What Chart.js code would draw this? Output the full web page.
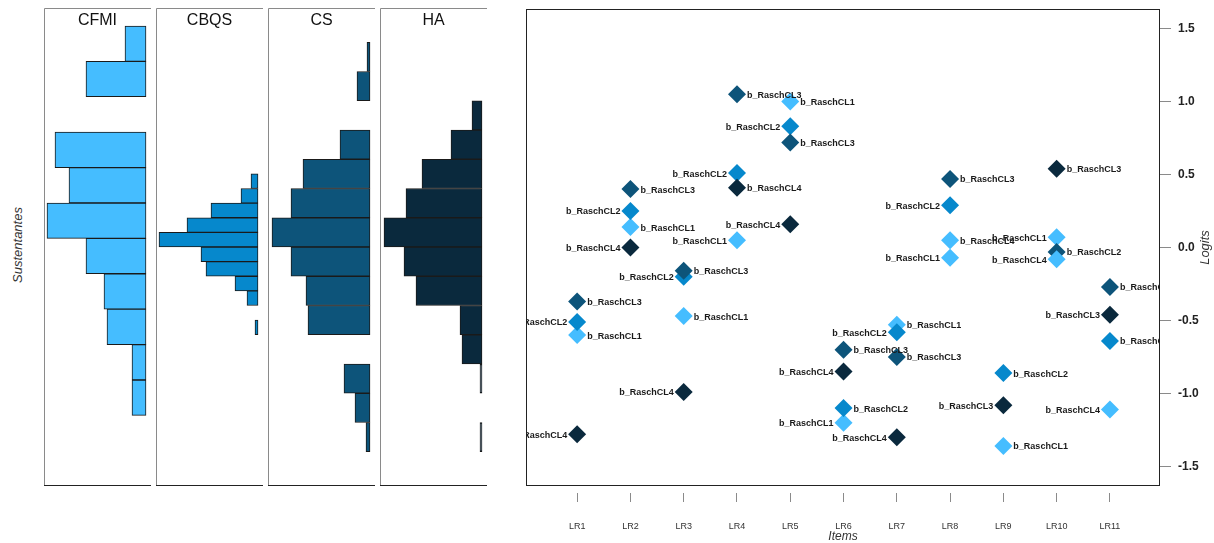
<!DOCTYPE html>
<html>
<head>
<meta charset="utf-8">
<script src="https://cdn.jsdelivr.net/npm/chart.js@4.4.1/dist/chart.umd.min.js"></script>
<style>
  html, body { margin: 0; padding: 0; background: #fff; }
  #wrap { position: relative; width: 1214px; height: 543px; overflow: hidden; }
  #wrap canvas { position: absolute; top: 0; }
  #persons {
    position: absolute; left: 17px; top: 245px;
    transform: translate(-50%, -50%) rotate(-90deg);
    font: italic 13px "Liberation Sans", Arial, sans-serif; color: #333; white-space: nowrap;
  }
</style>
</head>
<body>
<div id="wrap">
  <canvas id="hist0" width="107" height="543" style="left:44px"></canvas>
  <canvas id="hist1" width="107" height="543" style="left:156px"></canvas>
  <canvas id="hist2" width="107" height="543" style="left:268px"></canvas>
  <canvas id="hist3" width="107" height="543" style="left:380px"></canvas>
  <canvas id="map" width="714" height="543" style="left:500px"></canvas>
  <div id="persons">Sustentantes</div>
</div>
<script>
// ---- person distributions (one histogram per group, bins in logits) ----
const groupNames = ['CFMI', 'CBQS', 'CS', 'HA'];

const cfmiBins = [1.39, 1.148, 0.906, 0.664, 0.422, 0.18, -0.062, -0.304, -0.546, -0.788, -1.03];
const cfmiFreq = [21, 60, 0, 91, 77, 99, 60, 42, 39, 14, 14];

const cbqsBins = [0.45, 0.35, 0.25, 0.15, 0.05, -0.05, -0.15, -0.25, -0.35, -0.45, -0.55];
const cbqsFreq = [7, 17, 47, 71, 99, 57, 52, 23, 11, 0, 3];

const csBins = [1.3, 1.1, 0.9, 0.7, 0.5, 0.3, 0.1, -0.1, -0.3, -0.5, -0.7, -0.9, -1.1, -1.3];
const csFreq = [3, 13, 0, 30, 67, 79, 98, 79, 64, 62, 0, 26, 15, 4];

const haBins = [0.9, 0.7, 0.5, 0.3, 0.1, -0.1, -0.3, -0.5, -0.7, -0.9, -1.1, -1.3];
const haFreq = [10, 31, 60, 76, 98, 78, 66, 22, 20, 2, 0, 2];

// ---- item thresholds (logits), columns = b_RaschCL1..CL4 ----
const items = ['LR1', 'LR2', 'LR3', 'LR4', 'LR5', 'LR6', 'LR7', 'LR8', 'LR9', 'LR10', 'LR11'];
const thresholdNames = ['b_RaschCL1', 'b_RaschCL2', 'b_RaschCL3', 'b_RaschCL4'];
const thresholds = [
  [-0.60, -0.51, -0.37, -1.28],
  [ 0.14,  0.25,  0.40,  0.00],
  [-0.47, -0.20, -0.16, -0.99],
  [ 0.05,  0.51,  1.05,  0.41],
  [ 1.00,  0.83,  0.72,  0.16],
  [-1.20, -1.10, -0.70, -0.85],
  [-0.53, -0.58, -0.75, -1.30],
  [-0.07,  0.29,  0.47,  0.05],
  [-1.36, -0.86, -1.08,  null],
  [ 0.07, -0.03,  0.54, -0.08],
  [-0.27, -0.64, -0.46, -1.11]
];
// shade group of each threshold symbol (0 = lightest ... 3 = darkest)
const thresholdShade = [
  [0, 1, 2, 3], [0, 1, 2, 3], [0, 1, 2, 3], [0, 1, 2, 3], [0, 1, 2, 3], [0, 1, 2, 3],
  [0, 1, 2, 3], [0, 1, 2, 0], [0, 1, 3, null], [0, 2, 3, 0], [2, 1, 3, 0]
];
const logitTicks = [-1.5, -1.0, -0.5, 0.0, 0.5, 1.0, 1.5];

// ---- styling ----
const FONT = '"Liberation Sans", Arial, sans-serif';
Chart.defaults.font.family = FONT;
const shades = ['#45BDFF', '#0688CC', '#0D547A', '#0A293D'];
const LOGIT_MIN = -1.634, LOGIT_MAX = 1.634;

// frame + group name for each histogram panel
const panelFrame = {
  id: 'panelFrame',
  afterDraw(chart, args, opts) {
    const {ctx, chartArea: a} = chart;
    ctx.save();
    ctx.lineWidth = 1;
    ctx.strokeStyle = '#8a8a8a';
    ctx.beginPath();
    ctx.moveTo(a.left + 0.5, a.bottom);
    ctx.lineTo(a.left + 0.5, a.top + 0.5);
    ctx.lineTo(a.right, a.top + 0.5);
    ctx.stroke();
    ctx.strokeStyle = '#222';
    ctx.beginPath();
    ctx.moveTo(a.left, a.bottom - 0.5);
    ctx.lineTo(a.right, a.bottom - 0.5);
    ctx.stroke();
    ctx.fillStyle = '#111';
    ctx.font = '16px ' + FONT;
    ctx.textAlign = 'center';
    ctx.textBaseline = 'alphabetic';
    ctx.fillText(opts.name, (a.left + a.right) / 2, a.top + 17);
    ctx.restore();
  }
};

const histData = [[cfmiBins, cfmiFreq], [cbqsBins, cbqsFreq], [csBins, csFreq], [haBins, haFreq]];
histData.forEach(([bins, freq], g) => {
  new Chart(document.getElementById('hist' + g), {
    type: 'bar',
    data: {
      datasets: [{
        data: bins.map((b, k) => ({ y: b, x: freq[k] })),
        backgroundColor: shades[g],
        borderColor: '#1a1a1a',
        borderWidth: 1,
        borderSkipped: false,
        barThickness: 'flex',
        categoryPercentage: 1,
        barPercentage: 1
      }]
    },
    options: {
      indexAxis: 'y',
      responsive: false,
      animation: false,
      events: [],
      layout: { padding: { top: 8, bottom: 57, left: 0, right: 0 } },
      scales: {
        x: { type: 'linear', display: false, reverse: true, min: -5, max: 102 },
        y: { type: 'linear', display: false, offset: false, min: LOGIT_MIN, max: LOGIT_MAX }
      },
      plugins: { legend: { display: false }, tooltip: { enabled: false }, panelFrame: { name: groupNames[g] } }
    },
    plugins: [panelFrame]
  });
});

// ---- item map ----
const points = [];
items.forEach((name, i) => {
  const vals = thresholds[i];
  const ranked = vals.map((v, j) => ({ v, j })).filter(o => o.v !== null).sort((a, b) => b.v - a.v);
  const rank = {};
  ranked.forEach((o, r) => { rank[o.j] = r; });
  vals.forEach((v, j) => {
    if (v === null) return;
    points.push({ x: i + 1, y: v, name: thresholdNames[j], side: rank[j] % 2 === 0 ? 1 : -1, shade: thresholdShade[i][j] });
  });
});

const mapDecor = {
  id: 'mapDecor',
  afterDatasetsDraw(chart) {
    const {ctx, chartArea: a} = chart;
    const meta = chart.getDatasetMeta(0);
    ctx.save();
    ctx.beginPath();
    ctx.rect(a.left, a.top, a.right - a.left, a.bottom - a.top);
    ctx.clip();
    ctx.font = 'bold 9px ' + FONT;
    ctx.fillStyle = '#1a1a1a';
    ctx.textBaseline = 'middle';
    meta.data.forEach((el, k) => {
      const p = points[k];
      ctx.textAlign = p.side > 0 ? 'left' : 'right';
      ctx.fillText(p.name, el.x + p.side * 10, el.y + 1);
    });
    ctx.restore();
  },
  afterDraw(chart) {
    const {ctx, chartArea: a} = chart;
    ctx.save();
    ctx.strokeStyle = '#222';
    ctx.lineWidth = 1;
    ctx.strokeRect(a.left + 0.5, a.top + 0.5, a.right - a.left - 1, a.bottom - a.top - 1);
    ctx.translate(a.right + 45, (a.top + a.bottom) / 2);
    ctx.rotate(-Math.PI / 2);
    ctx.font = 'italic 13px ' + FONT;
    ctx.fillStyle = '#333';
    ctx.textAlign = 'center';
    ctx.textBaseline = 'middle';
    ctx.fillText('Logits', 0, 0);
    ctx.restore();
  }
};

new Chart(document.getElementById('map'), {
  type: 'scatter',
  data: {
    datasets: [{
      data: points.map(p => ({ x: p.x, y: p.y })),
      pointStyle: 'rectRot',
      pointRadius: 9,
      pointHoverRadius: 9,
      pointBorderWidth: 0,
      pointBackgroundColor: points.map(p => shades[p.shade]),
      pointBorderColor: points.map(p => shades[p.shade])
    }]
  },
  options: {
    responsive: false,
    animation: false,
    events: [],
    layout: { padding: { left: 26, top: 8, right: 0, bottom: 0 } },
    scales: {
      x: {
        type: 'linear', min: 0.04, max: 11.94,
        afterBuildTicks: s => { s.ticks = items.map((_, i) => ({ value: i + 1 })); },
        afterFit: s => { s.height = 57; s.paddingLeft = 0; s.paddingRight = 0; },
        ticks: {
          callback: v => items[v - 1], autoSkip: false, maxRotation: 0,
          font: { size: 9 }, color: '#333', padding: 19
        },
        grid: { drawOnChartArea: false, tickLength: 16, tickColor: '#8a8a8a', tickBorderDash: [0, 7, 9, 60] },
        border: { display: false },
        title: { display: true, text: 'Items', color: '#333', font: { size: 12, style: 'italic', lineHeight: 1 }, padding: { top: 0, bottom: 0 } }
      },
      y: {
        type: 'linear', position: 'right', min: LOGIT_MIN, max: LOGIT_MAX,
        afterBuildTicks: s => { s.ticks = logitTicks.map(v => ({ value: v })); },
        afterFit: s => { s.width = 54; s.paddingTop = 0; s.paddingBottom = 0; },
        ticks: { callback: v => v.toFixed(1), font: { size: 12, weight: 'bold' }, color: '#222', padding: 7 },
        grid: { drawOnChartArea: false, tickLength: 11, tickColor: '#8a8a8a' },
        border: { display: false }
      }
    },
    plugins: { legend: { display: false }, tooltip: { enabled: false } }
  },
  plugins: [mapDecor]
});
</script>
</body>
</html>
